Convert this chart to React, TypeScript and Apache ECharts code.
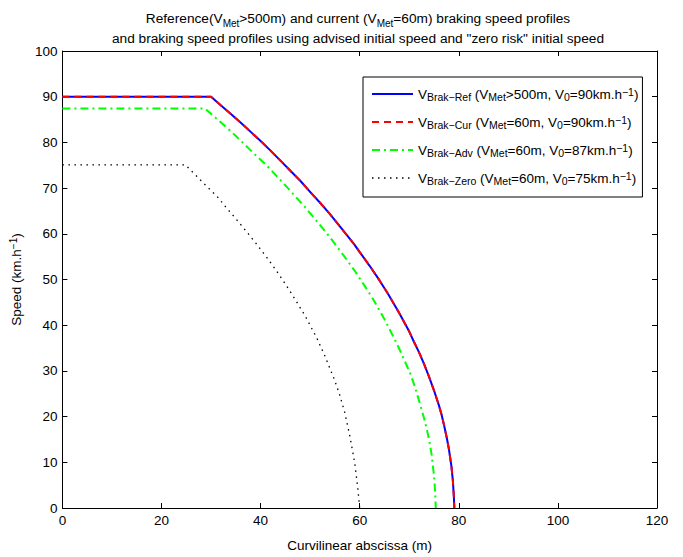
import React, { useEffect, useRef } from "react";
import * as echarts from "echarts";

// ---- data: [curvilinear abscissa (m), speed (km/h)] ----
const refProfile: number[][] = [
  [0, 90], [30, 90], [32, 88.1], [34, 86.2], [36, 84.3], [38, 82.3], [40, 80.3],
  [42, 78.2], [44.2, 75.8], [46, 73.8], [48, 71.6], [50.3, 68.8], [52, 66.8],
  [54, 64.3], [56, 61.6], [58.9, 57.7], [60, 56], [62, 53], [64, 49.8], [65.7, 46.9],
  [68, 42.6], [70, 38.6], [70.8, 36.7], [72, 34], [73, 31.5], [74, 28.7], [75, 25.7],
  [76, 22.4], [76.5, 20.5], [77, 18.2], [77.6, 15.2], [78, 12.9], [78.5, 9.2],
  [78.8, 6], [79, 2.5], [79.1, 0],
];
const curProfile: number[][] = [
  [0, 90], [30, 90], [32, 88.1], [34, 86.2], [36, 84.3], [38, 82.3], [40, 80.3],
  [42, 78.2], [44.2, 75.8], [46, 73.8], [48, 71.6], [50.3, 68.8], [52, 66.8],
  [54, 64.3], [56, 61.6], [58.9, 57.7], [60, 56], [62, 53], [64, 49.8], [65.7, 46.9],
  [68, 42.6], [70, 38.6], [70.8, 36.7], [72, 34], [73, 31.5], [74, 28.7], [75, 25.7],
  [76, 22.4], [76.5, 20.5], [77, 18.2], [77.6, 15.2], [78, 12.9], [78.5, 9.2],
  [78.8, 6], [79, 2.5], [79.1, 0],
];
const advProfile: number[][] = [
  [0, 87.4], [28.8, 87.4], [31, 85.3], [33, 83.4], [35, 81.4], [37, 79.3], [39, 77.2],
  [41, 75.2], [43, 72.9], [45, 70.6], [47, 68.2], [49, 65.8], [51, 63.2], [53, 60.6],
  [55, 57.8], [57, 54.9], [59, 51.9], [61, 48.6], [62.7, 45.7], [65, 41.3], [67.2, 36.6],
  [68, 34.8], [69, 32.4], [70.2, 29.4], [71, 27], [72, 23.4], [73, 19.6], [73.5, 17.4],
  [74, 15], [74.5, 11.8], [75, 7], [75.2, 4], [75.35, 0],
];
const zeroProfile: number[][] = [
  [0, 75.1], [24.8, 75.1], [27, 72.7], [29, 70.5], [31.2, 68.2], [33, 65.8], [35, 63.3],
  [37, 60.7], [39, 58], [41, 55.2], [43, 52.2], [45, 49], [47, 45.6], [49, 42],
  [51.3, 37.3], [53, 33.2], [55, 27.8], [56, 24.6], [57, 20.8], [58, 15.8], [59, 9.8],
  [59.6, 4.5], [60, 0],
];

const seriesNames = ["Ref", "Cur", "Adv", "Zero"];
const legendLabels = [
  "V{s|Brak\u2212Ref} (V{s|Met}>500m, V{s|0}=90km.h{p|\u22121})",
  "V{s|Brak\u2212Cur} (V{s|Met}=60m, V{s|0}=90km.h{p|\u22121})",
  "V{s|Brak\u2212Adv} (V{s|Met}=60m, V{s|0}=87km.h{p|\u22121})",
  "V{s|Brak\u2212Zero} (V{s|Met}=60m, V{s|0}=75km.h{p|\u22121})",
];
const titleLines = [
  "Reference(V{s|Met}>500m) and current (V{s|Met}=60m) braking speed profiles",
  "and braking speed profiles using advised initial speed and \"zero risk\" initial speed",
];
const xAxisName = "Curvilinear abscissa (m)";
const yAxisName = "Speed (km.h{p|\u22121})";

const FONT = "'Liberation Sans', Arial, Helvetica, sans-serif";
const FS = 13.5;

const richFor = (sub: number) => ({
  s: { fontSize: sub, fontFamily: FONT, color: "#000", verticalAlign: "bottom", lineHeight: 10 },
  p: { fontSize: sub, fontFamily: FONT, color: "#000", verticalAlign: "top", lineHeight: 10 },
});

export default function App() {
  const ref = useRef<HTMLDivElement>(null);

  useEffect(() => {
    if (!ref.current) return;
    const chart = echarts.init(ref.current, undefined, { renderer: "svg" });

    const axisCommon = {
      type: "value" as const,
      axisLine: { show: true, onZero: false, lineStyle: { color: "#000", width: 1 } },
      axisTick: { show: true, inside: true, length: 5, lineStyle: { color: "#000", width: 1 } },
      splitLine: { show: false },
    };

    chart.setOption({
      animation: false,
      backgroundColor: "#fff",
      title: {
        text: titleLines.join("\n"),
        left: 358,
        top: 8,
        padding: 0,
        textAlign: "center",
        textStyle: {
          fontSize: 13.7,
          fontWeight: "normal",
          fontFamily: FONT,
          color: "#000",
          lineHeight: 20,
          rich: richFor(10),
        },
      },
      grid: { left: 60, right: 26, top: 51, bottom: 35, containLabel: false },
      legend: {
        orient: "vertical",
        left: 363,
        top: 77,
        padding: [9, 4, 11, 8],
        itemWidth: 41,
        itemHeight: 16,
        itemGap: 12,
        backgroundColor: "#fff",
        borderColor: "#000",
        borderWidth: 1,
        borderRadius: 0,
        selectedMode: false,
        itemStyle: { opacity: 0 },
        data: seriesNames.map((n, i) => ({ name: n, lineStyle: { width: i === 3 ? 1.3 : 2 } })),
        formatter: (name: string) => legendLabels[seriesNames.indexOf(name)],
        textStyle: {
          fontSize: FS,
          fontFamily: FONT,
          color: "#000",
          lineHeight: 16,
          rich: richFor(10.5),
        },
      },
      xAxis: [
        {
          ...axisCommon,
          position: "bottom",
          min: 0,
          max: 120,
          interval: 20,
          axisLabel: { color: "#000", fontSize: FS, fontFamily: FONT, margin: 5 },
          name: xAxisName,
          nameLocation: "middle",
          nameGap: 30,
          nameTextStyle: { color: "#000", fontSize: FS, fontFamily: FONT },
        },
        {
          ...axisCommon,
          position: "top",
          min: 0,
          max: 120,
          interval: 20,
          axisLabel: { show: false },
        },
      ],
      yAxis: [
        {
          ...axisCommon,
          position: "left",
          min: 0,
          max: 100,
          interval: 10,
          axisLabel: { color: "#000", fontSize: FS, fontFamily: FONT, margin: 5 },
          name: yAxisName,
          nameLocation: "middle",
          nameGap: 38,
          nameRotate: 90,
          nameTextStyle: {
            color: "#000",
            fontSize: FS,
            fontFamily: FONT,
            lineHeight: 16,
            rich: richFor(10),
          },
        },
        {
          ...axisCommon,
          position: "right",
          min: 0,
          max: 100,
          interval: 10,
          axisLabel: { show: false },
        },
      ],
      series: [
        {
          name: "Ref",
          type: "line",
          data: refProfile,
          symbol: "none",
          lineStyle: { color: "#0000ff", width: 2, type: "solid" },
          itemStyle: { color: "#0000ff" },
        },
        {
          name: "Cur",
          type: "line",
          data: curProfile,
          symbol: "none",
          lineStyle: { color: "#ff0000", width: 2, type: [7, 5] },
          itemStyle: { color: "#ff0000" },
        },
        {
          name: "Adv",
          type: "line",
          data: advProfile,
          symbol: "none",
          lineStyle: { color: "#00ff00", width: 2, type: [8, 4, 2, 4] },
          itemStyle: { color: "#00ff00" },
        },
        {
          name: "Zero",
          type: "line",
          data: zeroProfile,
          symbol: "none",
          lineStyle: { color: "#000", width: 1.3, type: [1.5, 4.5] },
          itemStyle: { color: "#000" },
        },
      ],
    });

    return () => chart.dispose();
  }, []);

  return (
    <div
      ref={ref}
      style={{ position: "fixed", left: 0, top: 0, width: 683, height: 557, background: "#fff" }}
    />
  );
}
